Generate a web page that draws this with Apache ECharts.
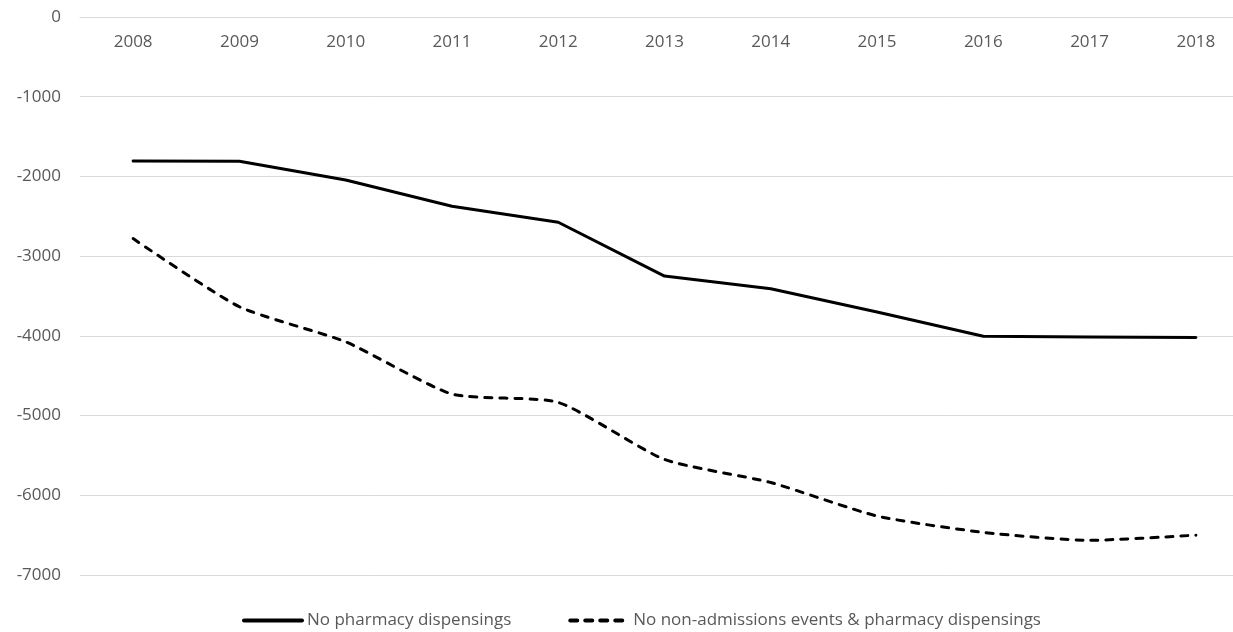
<!DOCTYPE html>
<html>
<head>
<meta charset="utf-8">
<script src="https://cdn.jsdelivr.net/npm/echarts@6/dist/echarts.min.js"></script>
<style>
html,body{margin:0;padding:0;background:#fff;}
#chart{width:1233px;height:632px;}
</style>
</head>
<body>
<div id="chart"></div>
<script>
const years = ['2008','2009','2010','2011','2012','2013','2014','2015','2016','2017','2018'];
const noPharmacy = [-1805, -1810, -2045, -2375, -2575, -3250, -3410, -3700, -4005, -4015, -4020];
const noNonAdmissions = [-2780, -3635, -4075, -4730, -4835, -5550, -5840, -6260, -6465, -6565, -6500];
const seriesNames = ['No pharmacy dispensings', 'No non-admissions events & pharmacy dispensings'];

const chart = echarts.init(document.getElementById('chart'), null, {renderer:'canvas'});
const font = '"Open Sans", sans-serif';
chart.setOption({
  animation: false,
  backgroundColor: '#ffffff',
  grid: { left: 80, top: 17, width: 1169, height: 558, containLabel: false, outerBoundsMode: 'none' },
  xAxis: {
    type: 'category',
    data: years,
    position: 'top',
    boundaryGap: true,
    axisLine: { onZero: false, lineStyle: { color: '#d9d9d9', width: 1 } },
    axisTick: { show: false },
    axisLabel: { inside: true, color: '#595959', fontSize: 17, fontFamily: font, margin: 17 },
    splitLine: { show: false }
  },
  yAxis: {
    type: 'value',
    min: -7000, max: 0, interval: 1000,
    axisLine: { show: false },
    axisTick: { show: false },
    axisLabel: { color: '#595959', fontSize: 17, fontFamily: font, margin: 19, formatter: v => String(v) },
    splitLine: { lineStyle: { color: '#d9d9d9', width: 1 } }
  },
  legend: {
    left: 237, top: 606,
    itemWidth: 58, itemHeight: 24, itemGap: 57,
    itemStyle: { opacity: 0 },
    lineStyle: { width: 4 },
    textStyle: { color: '#595959', fontSize: 17, fontFamily: font },
    data: seriesNames
  },
  series: [
    {
      name: seriesNames[0], type: 'line', data: noPharmacy,
      symbol: 'none', showSymbol: false,
      lineStyle: { color: '#000', width: 3, cap: 'round', join: 'round' },
      itemStyle: { color: '#000' }
    },
    {
      name: seriesNames[1], type: 'line', data: noNonAdmissions,
      symbol: 'none', showSymbol: false, smooth: 0.2,
      lineStyle: { color: '#000', width: 3, type: [7, 8], cap: 'round', join: 'round' },
      itemStyle: { color: '#000' }
    }
  ]
});
</script>
</body>
</html>
